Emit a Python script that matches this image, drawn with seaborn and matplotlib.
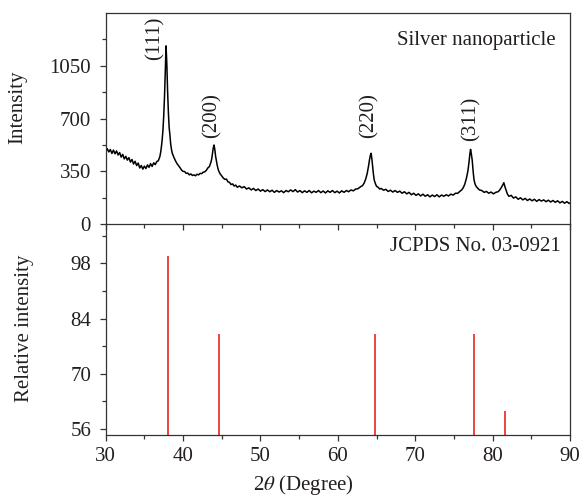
import matplotlib
matplotlib.use("Agg")
import matplotlib.pyplot as plt
import seaborn as sns
import pandas as pd
from matplotlib.ticker import MultipleLocator, FixedLocator

# ---------------- data ----------------
two_theta = [
    30.0, 30.2, 30.4, 30.6, 30.8, 31.0, 31.2, 31.4, 31.6, 31.8,
    32.0, 32.2, 32.4, 32.6, 32.8, 33.0, 33.2, 33.4, 33.6, 33.8,
    34.0, 34.2, 34.4, 34.6, 34.8, 35.0, 35.2, 35.4, 35.6, 35.8,
    36.0, 36.2, 36.4, 36.6, 36.8, 37.0, 37.1, 37.2, 37.3, 37.4,
    37.5, 37.6, 37.7, 37.8, 37.9, 38.0, 38.1, 38.2, 38.3, 38.4,
    38.5, 38.6, 38.8, 39.0, 39.2, 39.4, 39.6, 39.8, 40.0, 40.2,
    40.4, 40.6, 40.8, 41.0, 41.2, 41.4, 41.6, 41.8, 42.0, 42.2,
    42.4, 42.6, 42.8, 43.0, 43.2, 43.4, 43.6, 43.7, 43.8, 43.9,
    44.0, 44.1, 44.2, 44.3, 44.4, 44.5, 44.6, 44.8, 45.0, 45.2,
    45.4, 45.6, 45.8, 46.0, 46.2, 46.4, 46.6, 46.8, 47.0, 47.3,
    47.6, 47.9, 48.2, 48.5, 48.8, 49.1, 49.4, 49.7, 50.0, 50.3,
    50.6, 50.9, 51.2, 51.5, 51.8, 52.1, 52.4, 52.7, 53.0, 53.3,
    53.6, 53.9, 54.2, 54.5, 54.8, 55.1, 55.4, 55.7, 56.0, 56.3,
    56.6, 56.9, 57.2, 57.5, 57.8, 58.1, 58.4, 58.7, 59.0, 59.3,
    59.6, 59.9, 60.2, 60.5, 60.8, 61.1, 61.4, 61.7, 62.0, 62.3,
    62.6, 62.9, 63.2, 63.4, 63.6, 63.8, 64.0, 64.1, 64.2, 64.3,
    64.4, 64.5, 64.6, 64.7, 64.85, 65.0, 65.2, 65.4, 65.6, 65.9,
    66.2, 66.5, 66.8, 67.1, 67.4, 67.7, 68.0, 68.3, 68.6, 68.9,
    69.2, 69.5, 69.8, 70.1, 70.4, 70.7, 71.0, 71.3, 71.6, 71.9,
    72.2, 72.5, 72.8, 73.1, 73.4, 73.7, 74.0, 74.3, 74.6, 74.9,
    75.2, 75.5, 75.8, 76.0, 76.2, 76.4, 76.6, 76.8, 76.95, 77.05,
    77.15, 77.25, 77.36, 77.5, 77.6, 77.75, 77.9, 78.1, 78.3, 78.6,
    78.9, 79.2, 79.5, 79.8, 80.1, 80.4, 80.7, 80.9, 81.1, 81.3,
    81.45, 81.6, 81.75, 81.9, 82.1, 82.4, 82.7, 83.0, 83.3, 83.6,
    83.9, 84.2, 84.5, 84.8, 85.1, 85.4, 85.7, 86.0, 86.3, 86.6,
    86.9, 87.2, 87.5, 87.8, 88.1, 88.4, 88.7, 89.0, 89.3, 89.6,
    89.9, 90.0,
]
intensity = [
    478, 500, 478, 494, 468, 490, 466, 485, 458, 474,
    444, 462, 432, 449, 424, 440, 411, 428, 398, 416,
    388, 404, 372, 388, 364, 384, 368, 392, 376, 400,
    382, 406, 394, 414, 420, 447, 475, 513, 560, 624,
    720, 845, 1010, 1182, 1060, 880, 740, 640, 590, 530,
    495, 470, 444, 421, 402, 388, 374, 358, 349, 348,
    336, 338, 326, 332, 322, 326, 320, 330, 326, 336,
    334, 344, 346, 356, 372, 381, 410, 432, 470, 505,
    524, 495, 450, 420, 392, 370, 352, 332, 318, 305,
    296, 298, 280, 276, 262, 266, 252, 258, 244, 252,
    240, 248, 232, 240, 226, 236, 222, 232, 218, 228,
    215, 226, 214, 224, 210, 222, 212, 220, 208, 222,
    214, 226, 215, 228, 212, 222, 208, 220, 210, 222,
    207, 218, 210, 222, 208, 219, 206, 220, 210, 222,
    208, 218, 206, 220, 210, 222, 214, 226, 220, 232,
    234, 246, 255, 272, 298, 337, 395, 430, 455, 469,
    430, 380, 330, 292, 268, 250, 244, 232, 236, 224,
    230, 216, 224, 212, 222, 210, 218, 204, 214, 200,
    210, 194, 204, 190, 200, 186, 198, 184, 194, 180,
    192, 182, 194, 180, 192, 184, 194, 186, 198, 192,
    204, 204, 218, 226, 240, 264, 300, 350, 410, 460,
    495, 465, 425, 340, 292, 262, 248, 236, 226, 222,
    210, 216, 204, 212, 200, 210, 214, 224, 240, 258,
    274, 246, 222, 200, 184, 190, 172, 180, 164, 174,
    160, 170, 156, 166, 154, 164, 150, 162, 152, 160,
    148, 158, 146, 156, 144, 154, 140, 150, 138, 148,
    136, 140,
]

ref_positions = [38.1, 44.6, 64.75, 77.6, 81.6]
ref_intensity = [100, 80, 80, 80, 60.5]

peak_labels = ["(111)", "(200)", "(220)", "(311)"]
peak_label_x = [36.4, 43.75, 64.05, 77.15]
peak_label_y = [1090, 570, 570, 548]

top_yticks = [0, 350, 700, 1050]
bottom_yticks = [56, 70, 84, 98]
x_ticks = [30, 40, 50, 60, 70, 80, 90]

# ---------------- style ----------------
sns.set_theme(style="ticks")
plt.rcParams["font.family"] = ["Liberation Serif", "DejaVu Serif"]
plt.rcParams["mathtext.fontset"] = "stix"
FS = 15
TEXT = "#231f20"

fig = plt.figure(figsize=(5.81, 4.98), dpi=100)
L, R = 105.7 / 581, 570 / 581
ax2 = fig.add_axes([L, 1 - 435 / 498, R - L, (435 - 224) / 498])
ax1 = fig.add_axes([L, 1 - 224 / 498, R - L, (224 - 13) / 498])
ax1.patch.set_visible(False)
ax2.patch.set_visible(False)

df = pd.DataFrame({"two_theta": two_theta, "intensity": intensity})
sns.lineplot(data=df, x="two_theta", y="intensity", ax=ax1, color="black",
             linewidth=1.1, sort=False)

ax2.vlines(ref_positions, 54.5, ref_intensity, colors="#e8251f", linewidth=1.2)

for ax in (ax1, ax2):
    ax.set_xlim(30, 90)
    ax.set_xlabel("")
    ax.set_ylabel("")
    for s in ax.spines.values():
        s.set_linewidth(0.9)
        s.set_color("#333333")
        s.set_visible(True)
    ax.tick_params(which="both", direction="out", color="#333333", width=0.9,
                   labelsize=FS, labelcolor=TEXT, top=False, right=False)
    ax.tick_params(which="major", length=4.5)
    ax.tick_params(which="minor", length=2.8)
    ax.tick_params(axis="y", pad=6)
    ax.tick_params(axis="x", pad=4)
    ax.xaxis.set_major_locator(FixedLocator(x_ticks))
    ax.xaxis.set_minor_locator(MultipleLocator(5))

ax1.set_ylim(0, 1400)
ax1.yaxis.set_major_locator(FixedLocator(top_yticks))
ax1.yaxis.set_minor_locator(FixedLocator([175, 525, 875, 1225]))
ax1.tick_params(axis="x", labelbottom=False)

ax2.set_ylim(54.5, 108)
ax2.yaxis.set_major_locator(FixedLocator(bottom_yticks))
ax2.yaxis.set_minor_locator(FixedLocator([63, 77, 91, 105]))
ax2.spines["top"].set_visible(False)

for lab, xx, yy in zip(peak_labels, peak_label_x, peak_label_y):
    ax1.text(xx, yy, lab, rotation=90, ha="center", va="bottom",
             fontsize=FS, color=TEXT)

ax1.text(0.97, 0.872, "Silver nanoparticle", transform=ax1.transAxes,
         ha="right", va="center", fontsize=FS, color=TEXT)
ax2.text(0.98, 0.892, "JCPDS No. 03-0921", transform=ax2.transAxes,
         ha="right", va="center", fontsize=FS, color=TEXT)

fig.text(17.5 / 581, 1 - 107.5 / 498, "Intensity", rotation=90,
         ha="center", va="center", fontsize=FS, color=TEXT)
fig.text(25 / 581, 1 - 328 / 498, "Relative intensity", rotation=90,
         ha="center", va="center", fontsize=FS, color=TEXT)
fig.text(303 / 581, 1 - 485 / 498, r"2$\theta$ (Degree)",
         ha="center", va="center", fontsize=FS, color=TEXT)

fig.savefig("out.png", dpi=100)
